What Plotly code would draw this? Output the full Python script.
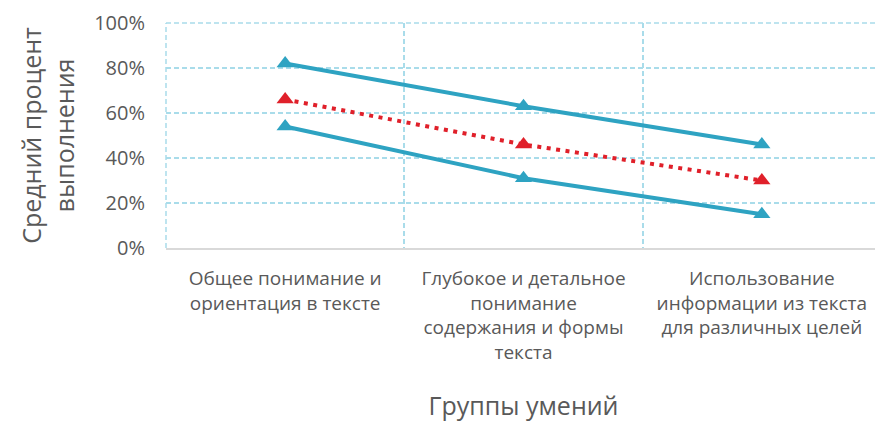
import plotly.graph_objects as go

categories = [
    "Общее понимание и<br>ориентация в тексте",
    "Глубокое и детальное<br>понимание<br>содержания и формы<br>текста",
    "Использование<br>информации из текста<br>для различных целей",
]
upper = [82, 63, 46]
average = [66, 46, 30]
lower = [54, 31, 15]
y_ticks = [0, 20, 40, 60, 80, 100]
y_labels = ["0%", "20%", "40%", "60%", "80%", "100%"]

x = list(range(len(categories)))
blue = "#2ea3c2"
red = "#e0202a"
grid = "#a9dcea"
txt = "#595959"
font = "Open Sans"
gdash = "5px,3px"

fig = go.Figure()
fig.add_trace(go.Scatter(x=x, y=upper, mode="lines+markers",
                         line=dict(color=blue, width=4),
                         marker=dict(symbol="triangle-up", size=15, color=blue)))
fig.add_trace(go.Scatter(x=x, y=lower, mode="lines+markers",
                         line=dict(color=blue, width=4),
                         marker=dict(symbol="triangle-up", size=15, color=blue)))
fig.add_trace(go.Scatter(x=x, y=average, mode="lines+markers",
                         line=dict(color=red, width=4, dash="4px,5.5px"),
                         marker=dict(symbol="triangle-up", size=15, color=red)))

# dashed plot-area border (top, left, right)
shapes = [
    dict(type="line", xref="paper", yref="paper", x0=0, x1=1, y0=1, y1=1, line=dict(color=grid, width=1.5, dash=gdash)),
    dict(type="line", xref="paper", yref="paper", x0=0, x1=0, y0=0, y1=1, line=dict(color=grid, width=1.5, dash=gdash)),
    dict(type="line", xref="paper", yref="paper", x0=1, x1=1, y0=0, y1=1, line=dict(color=grid, width=1.5, dash=gdash)),
]

fig.update_layout(
    width=875, height=414,
    margin=dict(l=158, r=2, t=15, b=174),
    paper_bgcolor="white", plot_bgcolor="white",
    showlegend=False,
    shapes=shapes,
    font=dict(family=font, color=txt),
    xaxis=dict(
        range=[-0.5, 2.5], tickvals=x, ticktext=categories,
        showgrid=False, zeroline=False,
        tickfont=dict(size=19, color=txt),
        ticks="", ticklen=0, ticklabelstandoff=12,
        showline=True, linecolor="#d9d9d9", linewidth=2,
        minor=dict(tickvals=[-0.5, 0.5, 1.5, 2.5], showgrid=True,
                   gridcolor=grid, griddash=gdash, gridwidth=1.5, ticks=""),
        title=dict(text="Группы умений", font=dict(size=25, color=txt), standoff=37),
        fixedrange=True,
    ),
    yaxis=dict(
        range=[0, 100], tickvals=y_ticks, ticktext=y_labels,
        showgrid=True, gridcolor=grid, griddash=gdash, gridwidth=1.5,
        zeroline=False, tickfont=dict(size=20, color=txt),
        ticklabelstandoff=20,
        title=dict(text="Средний процент<br>выполнения", font=dict(size=25, color=txt), standoff=12),
    ),
)

fig.write_html("out.html")
